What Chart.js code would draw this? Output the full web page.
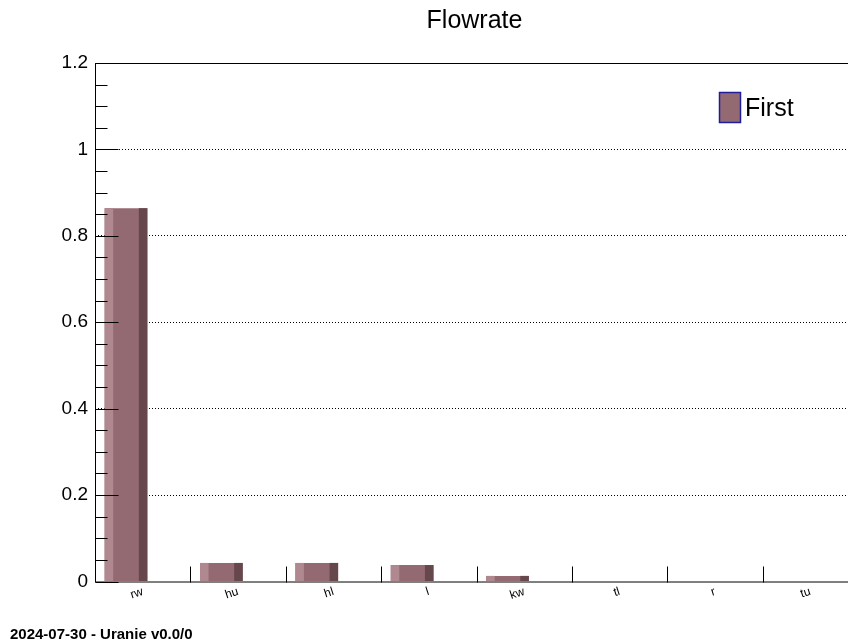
<!DOCTYPE html>
<html><head><meta charset="utf-8">
<script src="https://cdn.jsdelivr.net/npm/chart.js@4/dist/chart.umd.min.js"></script>
<style>
html,body{margin:0;padding:0;overflow:hidden;background:#fff}
#wrap{position:relative;width:848px;height:643px;overflow:hidden;background:#fff}
canvas{display:block}
</style>
</head><body><div id="wrap"><canvas id="c" width="858" height="643"></canvas></div>
<script>
const categories = ['rw', 'hu', 'hl', 'l', 'kw', 'tl', 'r', 'tu'];
const firstValues = [0.864, 0.043, 0.043, 0.038, 0.013, 0, 0, 0];
const spacerValues = [null, null, null, null, null, null, null, null];
const yTickValues = [0, 0.2, 0.4, 0.6, 0.8, 1, 1.2];
const seriesName = 'First';
const chartTitle = 'Flowrate';
const footerText = '2024-07-30 - Uranie v0.0/0';

const FONT = "'Liberation Sans', Arial, Helvetica, sans-serif";
const MID = '#946a72', LIGHT = '#b08890', DARK = '#66474c';

const decor = {
  id: 'decor',
  beforeDraw(chart) {
    const ctx = chart.ctx;
    ctx.save(); ctx.fillStyle = '#fff'; ctx.fillRect(0, 0, chart.width, chart.height); ctx.restore();
  },
  afterDatasetsDraw(chart) {
    const ctx = chart.ctx, a = chart.chartArea;
    const ys = chart.scales.y, xs = chart.scales.x;
    ctx.save();
    // 3-tone bars
    chart.getDatasetMeta(0).data.forEach(el => {
      const p = el.getProps(['x', 'y', 'base', 'width'], true);
      const h = p.base - p.y;
      if (!(h > 0)) return;
      const left = p.x - p.width / 2;
      ctx.fillStyle = LIGHT; ctx.fillRect(left, p.y, p.width * 0.2, h);
      ctx.fillStyle = DARK; ctx.fillRect(left + p.width * 0.8, p.y, p.width * 0.2, h);
    });
    // frame
    ctx.strokeStyle = '#000'; ctx.lineWidth = 1;
    ctx.strokeRect(Math.round(a.left) + 0.5, Math.round(a.top) + 0.5, a.width, a.height);
    // y ticks (inward), minor every 0.05
    const left = Math.round(a.left) + 0.5;
    ctx.beginPath();
    for (let k = 0; k <= 24; k++) {
      const y = Math.round(ys.getPixelForValue(k * 0.05)) + 0.5;
      const len = (k % 4 === 0) ? 23 : 12;
      ctx.moveTo(left, y); ctx.lineTo(left + len, y);
    }
    // x ticks at category boundaries
    const bottom = Math.round(a.bottom) + 0.5;
    for (let i = 1; i < categories.length; i++) {
      const x = Math.round((xs.getPixelForTick(i - 1) + xs.getPixelForTick(i)) / 2) + 0.5;
      ctx.moveTo(x, bottom); ctx.lineTo(x, bottom - 16);
    }
    ctx.stroke();
    // title
    ctx.fillStyle = '#000';
    ctx.font = '25px ' + FONT;
    ctx.textAlign = 'center'; ctx.textBaseline = 'alphabetic';
    ctx.fillText(chartTitle, (a.left + a.right) / 2 - 2, 28);
    // legend
    ctx.fillStyle = MID; ctx.fillRect(719.5, 92.5, 21, 30);
    ctx.strokeStyle = '#1e1e9c'; ctx.lineWidth = 1.5; ctx.strokeRect(719.5, 92.5, 21, 30);
    ctx.fillStyle = '#000'; ctx.textAlign = 'left';
    ctx.font = '25px ' + FONT;
    ctx.fillText(chart.data.datasets[0].label, 745, 116);
    // footer
    ctx.font = 'bold 15px ' + FONT;
    ctx.fillText(footerText, 10, 638.5);
    ctx.restore();
  }
};

new Chart(document.getElementById('c'), {
  type: 'bar',
  data: {
    labels: categories,
    datasets: [
      { label: seriesName, data: firstValues, backgroundColor: MID, borderWidth: 0,
        categoryPercentage: 0.7, barPercentage: 1.28 },
      { label: '', data: spacerValues, backgroundColor: 'rgba(0,0,0,0)', borderWidth: 0,
        categoryPercentage: 0.7, barPercentage: 1.28 }
    ]
  },
  options: {
    responsive: false,
    animation: false,
    devicePixelRatio: 1,
    layout: { padding: { top: 63, left: 0, right: 0, bottom: 0 } },
    plugins: { legend: { display: false }, title: { display: false }, tooltip: { enabled: false } },
    scales: {
      x: {
        type: 'category',
        offset: true,
        grid: { display: false, drawTicks: false },
        border: { display: false },
        ticks: { color: '#000', font: { family: FONT, size: 12 }, minRotation: 18, maxRotation: 18, autoSkip: false, padding: 3 },
        afterFit(s) { s.height = 61.5; }
      },
      y: {
        min: 0, max: 1.2,
        afterBuildTicks(s) { s.ticks = yTickValues.map(v => ({ value: v })); },
        grid: {
          drawTicks: false,
          color: c => (c.tick && c.tick.value > 0 && c.tick.value < 1.2) ? '#000' : 'rgba(0,0,0,0)',
          lineWidth: 1
        },
        border: { display: false, dash: [1, 2] },
        ticks: { color: '#000', font: { family: FONT, size: 19 }, padding: 7,
                 callback: v => String(Math.round(v * 10) / 10) },
        afterFit(s) { s.width = 95; }
      }
    }
  },
  plugins: [decor]
});
</script>
</body></html>
